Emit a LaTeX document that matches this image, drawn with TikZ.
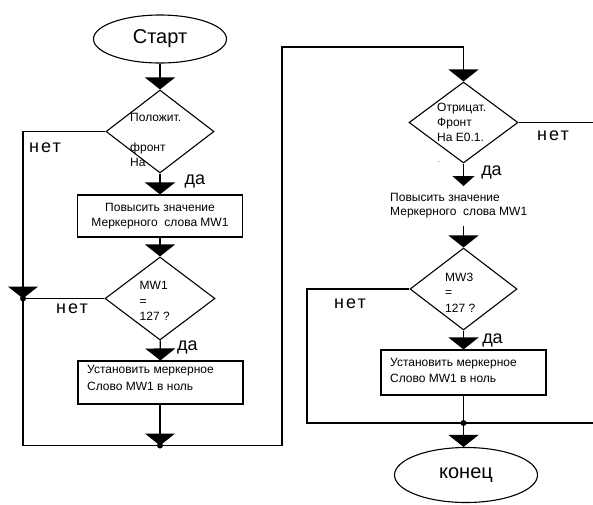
\documentclass[tikz,border=0pt]{standalone}
\usepackage{fontspec}
\setmainfont{Liberation Sans}
\newfontfamily\widefont[LetterSpace=12]{Liberation Sans}
\usetikzlibrary{arrows.meta,shapes.geometric,positioning}

\tikzset{
  line/.style={draw, line width=1.2pt},
  arr/.style={line, -{Triangle[width=30pt,length=12pt]}},
  arrsmall/.style={line, -{Triangle[width=22pt,length=10pt]}},
  term/.style={ellipse, draw, line width=1.1pt, inner sep=0pt, font=\fontsize{20}{22}\selectfont},
  cond/.style={diamond, draw, line width=1.1pt, inner sep=0pt, minimum width=108pt, minimum height=83pt},
  act/.style={rectangle, draw, line width=1.1pt, inner sep=0pt, minimum width=165pt},
  txt/.style={font=\fontsize{12}{15}\selectfont, inner sep=0pt, align=left},
  yes/.style={font=\fontsize{18}{20}\selectfont, inner sep=0pt},
  no/.style={font=\widefont\fontsize{18}{20}\selectfont, inner sep=0pt},
}

\begin{document}
\begin{tikzpicture}[x=10pt,y=-10pt]
\useasboundingbox (0,0) rectangle (59.3,50.4);

% left column
\node[term, minimum width=133pt, minimum height=48pt] (start) at (16,3.9) {Старт};
\node[cond] (pos) at (16,13.15) {};
\node[txt, anchor=west] (postxt) at (13.0,11.7) {Положит.};
\node[txt, anchor=west, font=\tiny] (posdot) at (13.4,12.4) {.};
\node[txt, anchor=west] (postxtb) at (13.0,15.45) {фронт\\На};

\node[act, txt, align=center, minimum height=42pt] (inc1) at (16,21.6)
  {Повысить значение\\Меркерного\ \ слова MW1};

\node[cond, minimum width=110pt] (eq1) at (16,29.85) {};
\node[txt, anchor=west, font=\fontsize{12}{15.5}\selectfont] (eq1txt) at (13.95,30.1) {MW1\\=\\127 ?};

\node[act, minimum height=43pt] (rst1) at (16.05,38.25) {};
\node[txt, anchor=north west, font=\fontsize{12}{17}\selectfont] (rst1txt) at (8.7,36.5)
  {Установить меркерное\\Слово MW1 в ноль};

\coordinate (cl1) at (2.3,13.15);
\coordinate (j1) at (2.3,29.85);
\coordinate (cbl) at (2.3,44.55);
\coordinate (j2) at (16,44.55);
\coordinate (cbr) at (28.2,44.55);
\coordinate (ctop) at (28.2,4.7);

% right column
\node[cond, minimum width=109pt, minimum height=81pt] (neg) at (46.35,12.25) {};
\node[txt, anchor=west] (negtxt) at (43.7,12.2) {Отрицат.\\Фронт\\На E0.1.};
\node[txt, anchor=west, font=\tiny] (negdash) at (43.8,16.3) {-};

\node[txt, anchor=north west, inner ysep=7pt, font=\fontsize{12}{14.5}\selectfont] (inc2) at (39.0,18.6)
  {Повысить значение\\Меркерного\ \ слова MW1};

\node[cond, minimum width=107pt, minimum height=82pt] (eq2) at (46.35,28.9) {};
\node[txt, anchor=west, font=\fontsize{12}{15.5}\selectfont] (eq2txt) at (44.5,29.25) {MW3\\=\\127 ?};

\node[act, minimum height=45pt] (rst2) at (46.35,37.25) {};
\node[txt, anchor=north west, font=\fontsize{12}{16}\selectfont] (rst2txt) at (39.0,35.8)
  {Установить меркерное\\Слово MW1 в ноль};

\node[term, minimum width=143pt, minimum height=55pt] (stop) at (46.6,47.5) {конец};

\coordinate (ce3) at (59.3,12.25);
\coordinate (cl4) at (30.7,28.9);
\coordinate (cbl4) at (30.7,42.3);
\coordinate (j3) at (46.35,42.3);
\coordinate (cbr4) at (59.3,42.3);

% labels
\node[no] (no1) at (4.5,14.8) {нет};
\node[yes] (yes1) at (19.5,18.1) {да};
\node[no] (no2) at (7.2,30.9) {нет};
\node[yes] (yes2) at (18.75,34.7) {да};
\node[no] (no3) at (55.3,13.6) {нет};
\node[yes] (yes3) at (49.15,17.2) {да};
\node[no] (no4) at (35.0,30.35) {нет};
\node[yes] (yes4) at (49.25,34.0) {да};

% connectors left
\draw[arr] (start) -- (pos);
\draw[arr] (pos.west) -- (cl1) -- (j1);
\draw[arr] (pos) -- (inc1);
\draw[arr] (inc1) -- (eq1);
\draw[line] (eq1.west) -- (j1);
\draw[arr] (eq1) -- (rst1);
\draw[arr] (rst1.south -| j2) -- (j2);
\draw[arr] (j1) -- (cbl) -- (cbr) -- (ctop) -| (neg.north);
\fill (j1) circle (3pt);
\fill (j2) circle (3pt);

% connectors right
\draw[line] (neg.east) -- (ce3);
\draw[arrsmall] (neg.south) -- (neg.south |- inc2.north);
\draw[arr] (inc2.south -| eq2.north) -- (eq2.north);
\draw[line] (eq2.west) -- (cl4) -- (cbl4) -- (cbr4);
\draw[arr] (eq2) -- (rst2);
\draw[line] (rst2) -- (j3);
\draw[arr] (j3) -- (j3 |- stop.north);
\fill (j3) circle (3pt);

\end{tikzpicture}
\end{document}
